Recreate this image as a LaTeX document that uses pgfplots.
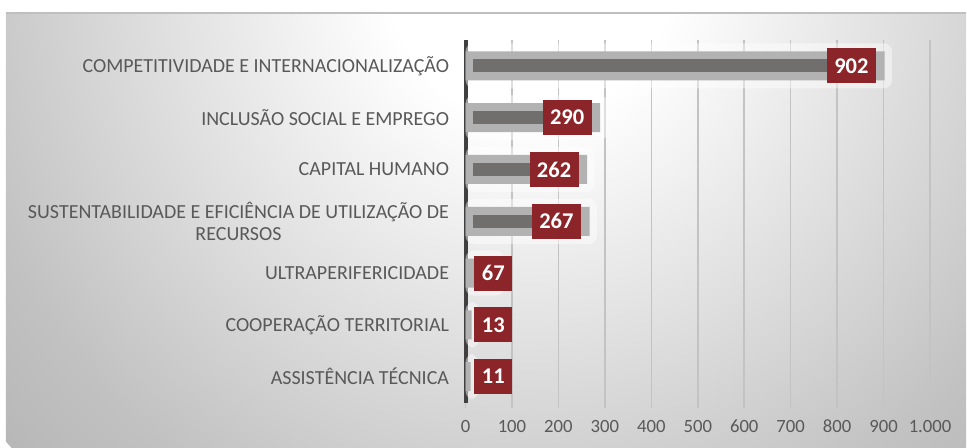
\documentclass[border=0pt]{standalone}
\usepackage{pgfplots}
\pgfplotsset{compat=1.18}
\usepackage{pgfplotstable}
\usepackage{fontspec}
\setmainfont{Carlito}

\definecolor{rotulo}{RGB}{89,89,89}
\definecolor{caixa}{RGB}{139,37,41}
\definecolor{barraclara}{RGB}{178,178,178}
\definecolor{barraescura}{RGB}{112,111,109}
\definecolor{eixo}{RGB}{64,64,64}
\definecolor{grelha}{RGB}{195,195,195}

% 25bp = raio do circulo sombreado
\pgfdeclareradialshading{fundo}{\pgfpoint{0bp}{0bp}}{%
  color(0bp)=(white); color(5bp)=(white); color(21bp)=(black!24); color(25bp)=(black!28); color(50bp)=(black!28)}

% eixos: 6 = topo
\pgfplotstableread{
y v
6 902
5 290
4 262
3 267
2 67
1 13
0 11
}\eixos

\begin{document}
\begin{tikzpicture}
% fundo do grafico
\path[fill=white] (0pt,0pt) rectangle (967pt,448pt);
\begin{scope}
  \clip (6pt,0pt) rectangle (967pt,435pt);
  \shade[shading=fundo] (530pt,470pt) circle (700pt);
\end{scope}
\draw[black!25, line width=2pt] (6pt,435pt) -- (967pt,435pt);

\begin{axis}[
    at={(466pt,45pt)}, anchor=south west,
    scale only axis, width=465pt, height=363pt,
    xmin=0, xmax=1000, ymin=-0.5, ymax=6.5,
    axis x line*=bottom, axis y line*=left,
    x axis line style={draw=none},
    y axis line style={line width=4pt, eixo},
    xtick={0,100,...,1000},
    xticklabels={0,100,200,300,400,500,600,700,800,900,1.000},
    xmajorgrids, grid style={grelha, line width=1.5pt},
    xtick align=outside, major tick length=5pt,
    x tick style={grelha, line width=1.5pt},
    xticklabel style={yshift=-9pt},
    ytick={0,...,6},
    yticklabels={ASSISTÊNCIA TÉCNICA, COOPERAÇÃO TERRITORIAL, ULTRAPERIFERICIDADE,
      {SUSTENTABILIDADE E EFICIÊNCIA DE UTILIZAÇÃO DE\\RECURSOS},
      CAPITAL HUMANO, INCLUSÃO SOCIAL E EMPREGO, COMPETITIVIDADE E INTERNACIONALIZAÇÃO},
    y tick style={draw=none},
    yticklabel style={align=center, xshift=-13pt, font=\fontsize{20}{22}\selectfont},
    xticklabel style={font=\fontsize{18.7}{21}\selectfont},
    tick label style={text=rotulo},
    /pgf/number format/assume math mode=true,
    clip=false,
]
% halo
\addplot[xbar, bar shift=0pt, bar width=45pt, fill=white, draw=none,
  opacity=0.45, rounded corners=8pt] table[x expr=\thisrow{v}+16, y=y] {\eixos};
% barra clara
\addplot[xbar, bar shift=0pt, bar width=29pt, fill=barraclara, draw=none]
  table[x=v, y=y] {\eixos};
% barra escura interior
\addplot[barraescura, line width=13pt] coordinates {(17,6) (800,6)};
\addplot[barraescura, line width=13pt] coordinates {(17,5) (190,5)};
\addplot[barraescura, line width=13pt] coordinates {(17,4) (160,4)};
\addplot[barraescura, line width=13pt] coordinates {(17,3) (165,3)};
% etiquetas
\addplot[only marks, mark=none, point meta=explicit symbolic,
  nodes near coords, nodes near coords align=horizontal,
  every node near coord/.append style={anchor=east, xshift=0pt, yshift=0pt,
    fill=caixa, text=white, font=\bfseries\fontsize{22.5}{23}\selectfont,
    minimum height=35pt, inner xsep=7.5pt, inner ysep=0pt}]
  table[x expr={max(\thisrow{v}-18,101)}, y=y, meta=v] {\eixos};
\end{axis}
\end{tikzpicture}
\end{document}
